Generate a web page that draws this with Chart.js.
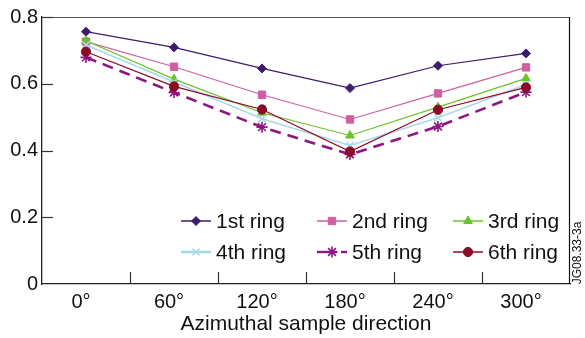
<!DOCTYPE html>
<html><head><meta charset="utf-8">
<script src="https://cdn.jsdelivr.net/npm/chart.js@4/dist/chart.umd.min.js"></script>
<style>html,body{margin:0;padding:0;background:#fff}#w{width:585px;height:338px}</style>
</head><body><div id="w"><canvas id="c"></canvas></div>
<script>
const categories = ['0°','60°','120°','180°','240°','300°'];
const ring1 = [0.756,0.709,0.646,0.587,0.654,0.691];
const ring2 = [0.726,0.651,0.567,0.493,0.571,0.649];
const ring3 = [0.729,0.614,0.513,0.445,0.530,0.616];
const ring4 = [0.716,0.605,0.495,0.415,0.498,0.598];
const ring5 = [0.679,0.574,0.470,0.388,0.472,0.575];
const ring6 = [0.696,0.592,0.523,0.397,0.522,0.589];
const seriesNames = ['1st ring','2nd ring','3rd ring','4th ring','5th ring','6th ring'];
const yTicks = [0,0.2,0.4,0.6,0.8];
const sideLabel = 'JG08.33-3a';
const xTitle = 'Azimuthal sample direction';

const FONT = "'Liberation Sans', Arial, sans-serif";
const styles = [
  {c:'#3d1c6e', ps:'rectRot', r:4.5, bw:1.2, dash:[]},
  {c:'#cf5fa0', ps:'rect', r:5.2, bw:1.2, dash:[]},
  {c:'#6cc22a', ps:'triangle', r:5, bw:1.2, dash:[]},
  {c:'#a8d9e8', ps:'crossRot', r:5, bw:1.6, dash:[]},
  {c:'#8e1583', ps:'star', r:5.5, bw:2.6, dash:[11,7]},
  {c:'#8a0b26', ps:'circle', r:4.6, bw:1.2, dash:[]}
];
const seriesData = [ring1,ring2,ring3,ring4,ring5,ring6];
const datasets = seriesData.map((d,i)=>({
  label: seriesNames[i], data: d, order: 5-i,
  borderColor: styles[i].c, backgroundColor: styles[i].c,
  borderWidth: styles[i].bw, borderDash: styles[i].dash,
  pointStyle: styles[i].ps, pointRadius: styles[i].r,
  pointBorderWidth: (styles[i].ps==='star'||styles[i].ps==='crossRot') ? 1.6 : 1,
  pointBorderColor: styles[i].c, pointBackgroundColor: styles[i].c,
  tension: 0, fill: false
}));
const decor = {
  id:'decor',
  afterDraw(chart){
    const {ctx, chartArea:a, scales:{x,y}} = chart;
    ctx.save();
    ctx.lineWidth = 1.2;
    ctx.strokeStyle = '#555';
    ctx.beginPath(); ctx.moveTo(a.left, a.top+0.5); ctx.lineTo(a.right, a.top+0.5); ctx.stroke();
    ctx.strokeStyle = '#111';
    ctx.beginPath(); ctx.moveTo(a.right-0.5, a.top); ctx.lineTo(a.right-0.5, a.bottom); ctx.stroke();
    ctx.strokeStyle = '#333'; ctx.lineWidth = 1.2;
    yTicks.forEach(v=>{ if(v===0) return; const py = Math.round(y.getPixelForValue(v))+0.5;
      ctx.beginPath(); ctx.moveTo(a.left, py); ctx.lineTo(a.left+11, py); ctx.stroke(); });
    for(let i=0;i<categories.length-1;i++){
      const px = Math.round((x.getPixelForValue(i)+x.getPixelForValue(i+1))/2)+0.5;
      ctx.beginPath(); ctx.moveTo(px, a.bottom); ctx.lineTo(px, a.bottom-12); ctx.stroke();
    }
    const colX = [a.left+139, a.left+275, a.left+411];
    const rowY = [221, 252];
    ctx.font = '21px ' + FONT; ctx.textBaseline = 'middle'; ctx.textAlign='left';
    chart.data.datasets.forEach((ds,i)=>{
      const cx = colX[i%3], cy = rowY[Math.floor(i/3)];
      ctx.strokeStyle = ds.borderColor; ctx.fillStyle = ds.backgroundColor;
      ctx.lineWidth = i===4 ? 2.4 : (i===3 ? 2.6 : 1.5);
      if(i===4){
        ctx.beginPath(); ctx.moveTo(cx, cy); ctx.lineTo(cx+20, cy); ctx.stroke();
        ctx.beginPath(); ctx.moveTo(cx+24, cy); ctx.lineTo(cx+30, cy); ctx.stroke();
      } else {
        ctx.beginPath(); ctx.moveTo(cx, cy); ctx.lineTo(cx+30, cy); ctx.stroke();
      }
      ctx.lineWidth = ds.pointBorderWidth;
      Chart.helpers.drawPoint(ctx, {pointStyle: ds.pointStyle, radius: ds.pointRadius, rotation:0, borderWidth: ds.pointBorderWidth}, cx+15, cy);
      ctx.fillStyle = '#111';
      ctx.fillText(ds.label, cx+35, cy+1);
    });
    ctx.translate(578, 253); ctx.rotate(-Math.PI/2);
    ctx.font = '12px ' + FONT; ctx.textAlign='center'; ctx.textBaseline='middle'; ctx.fillStyle='#111';
    ctx.fillText(sideLabel, 0, 0);
    ctx.restore();
  }
};
new Chart(document.getElementById('c'), {
  type:'line',
  data:{labels:categories, datasets},
  options:{
    responsive:true, maintainAspectRatio:false, animation:false,
    layout:{padding:{left:0, top:17, right:15, bottom:0}},
    plugins:{legend:{display:false}, tooltip:{enabled:false}},
    scales:{
      x:{
        offset:true,
        grid:{display:false, drawTicks:false},
        border:{display:true, color:'#222', width:1.3},
        ticks:{color:'#111', font:{family:FONT, size:20}, padding:6, labelOffset:-5, maxRotation:0},
        title:{display:true, text:xTitle, color:'#111', font:{family:FONT, size:21}, padding:{top:2,bottom:1}},
        afterFit(s){ s.height = 54; }
      },
      y:{
        min:0, max:0.8,
        afterBuildTicks(s){ s.ticks = yTicks.map(v=>({value:v})); },
        grid:{display:false, drawTicks:false},
        border:{display:true, color:'#222', width:1.3},
        ticks:{color:'#111', font:{family:FONT, size:20}, padding:4,
          callback:(v)=> v===0 ? '0' : v.toFixed(1)},
        afterFit(s){ s.width = 42; }
      }
    }
  },
  plugins:[decor]
});
</script></body></html>
